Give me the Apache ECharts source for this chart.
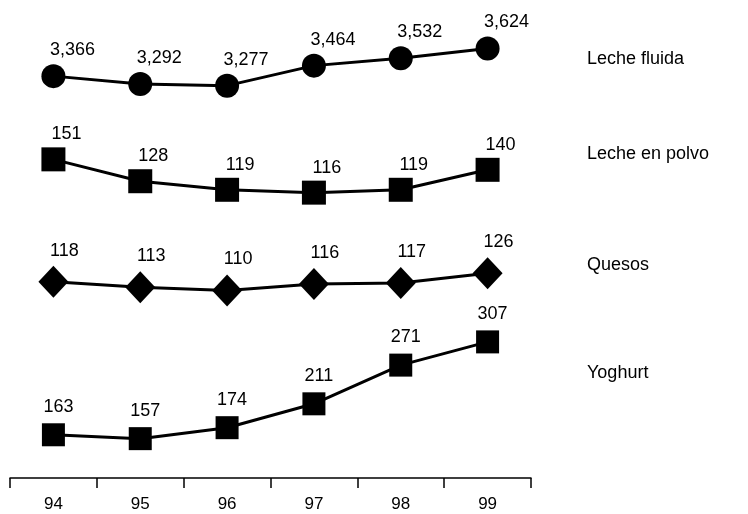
<!DOCTYPE html>
<html>
<head>
<meta charset="utf-8">
<script src="https://cdn.jsdelivr.net/npm/echarts@6/dist/echarts.min.js"></script>
<style>
  html, body { margin: 0; padding: 0; background: #fff; }
  #chart1 { width: 748px; height: 514px; }
</style>
</head>
<body>
<div id="chart1"></div>
<script>
// datos
var years = ['94', '95', '96', '97', '98', '99'];
var serieNames = ['Leche fluida', 'Leche en polvo', 'Quesos', 'Yoghurt'];
var lecheFluida = [3366, 3292, 3277, 3464, 3532, 3624];
var lechePolvo = [151, 128, 119, 116, 119, 140];
var quesos = [118, 113, 110, 116, 117, 126];
var yoghurt = [163, 157, 174, 211, 271, 307];

var fontName = '"Liberation Sans", Arial, sans-serif';

// cada serie tiene su propia escala (banda) en el mismo grid
function hiddenAxis(min, max) {
    return { type: 'value', min: min, max: max, show: false, splitLine: { show: false } };
}

function lineSerie(name, data, axisIdx, symbol, size, off, fmt) {
    return {
        name: name,
        type: 'line',
        yAxisIndex: axisIdx,
        data: data,
        symbol: symbol,
        symbolSize: size,
        showAllSymbol: true,
        animation: false,
        lineStyle: { color: '#000', width: 3 },
        itemStyle: { color: '#000', borderWidth: 0 },
        label: {
            show: true,
            position: 'inside',
            offset: off,
            color: '#000',
            textBorderWidth: 0,
            fontFamily: fontName,
            fontSize: 18,
            formatter: fmt || '{c}'
        },
        emphasis: { disabled: true }
    };
}

var myChartLine = echarts.init(document.getElementById('chart1'));
var optionLine = {
    backgroundColor: '#fff',
    animation: false,
    grid: { left: 10, right: 217, top: 20, bottom: 36 },
    xAxis: {
        type: 'category',
        boundaryGap: true,
        data: years,
        axisLine: { onZero: false, lineStyle: { color: '#000', width: 1.5 } },
        axisTick: { show: true, length: 10, lineStyle: { color: '#000', width: 1.5 } },
        axisLabel: { color: '#000', fontFamily: fontName, fontSize: 17, margin: 18 },
        splitLine: { show: false }
    },
    yAxis: [
        hiddenAxis(-386, 3890),
        hiddenAxis(-184, 297.5),
        hiddenAxis(-64, 361),
        hiddenAxis(96, 806)
    ],
    series: [
        lineSerie(serieNames[0], lecheFluida, 0, 'circle', 24, [19, -26], function (p) {
            return p.value.toLocaleString('en-US');
        }),
        lineSerie(serieNames[1], lechePolvo, 1, 'rect', 24, [13, -25]),
        lineSerie(serieNames[2], quesos, 2, 'diamond', [30, 32], [11, -31]),
        lineSerie(serieNames[3], yoghurt, 3, 'rect', 23, [5, -28])
    ],
    // nombres de las series a la derecha
    graphic: [60, 155, 266, 374].map(function (y, i) {
        return {
            type: 'text',
            left: 587,
            top: y - 10,
            style: { text: serieNames[i], fill: '#000', font: '18px ' + fontName }
        };
    })
};
myChartLine.setOption(optionLine);
</script>
</body>
</html>
